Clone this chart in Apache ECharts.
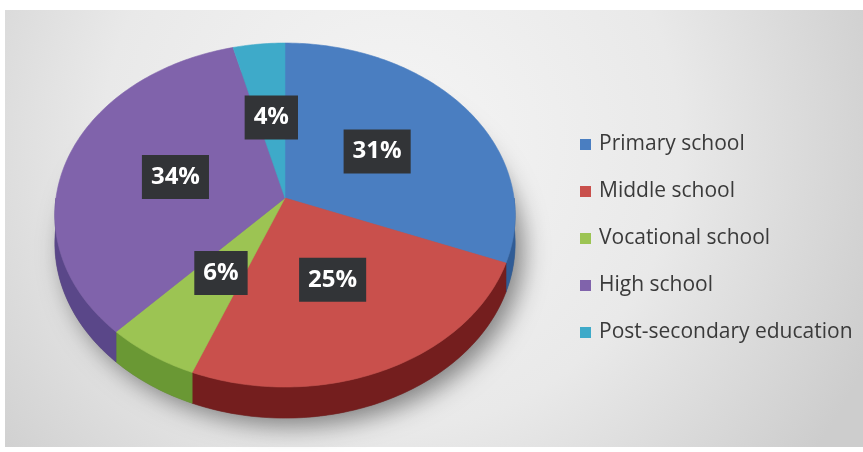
<!DOCTYPE html>
<html>
<head>
<meta charset="utf-8">
<script src="https://cdn.jsdelivr.net/npm/echarts@6/dist/echarts.min.js"></script>
<style>
  html, body { margin: 0; padding: 0; background: #ffffff; }
  #chart { width: 863px; height: 452px; }
</style>
</head>
<body>
<div id="chart"></div>
<script>
// Share of students by education level (percent)
const categories = ['Primary school', 'Middle school', 'Vocational school', 'High school', 'Post-secondary education'];
const shares = [31, 25, 6, 34, 4];
const faceColors = ['#4a7ec1', '#c9504c', '#9cc453', '#8063ab', '#3eaac9'];
const sideColors = ['#305c96', '#741e1e', '#6a9834', '#5a4789', '#2b8aa3'];

const total = shares.reduce((a, b) => a + b, 0);
const starts = [];
let running = 0;
shares.forEach(v => { starts.push(running); running += v; });

// Tilted disc: centre, radii, perspective strength and thickness
const disc = { cx: 285, cy: 198, rx: 229, ry: 170.3, persp: 0.099, depth: 28 };

// Project a point of the disc (angle clockwise from 12 o'clock, radius fraction, drop below the top face)
function project(theta, f, drop) {
  const X = f * Math.sin(theta);
  const Z = f * Math.cos(theta);
  const s = 1 / (1 + disc.persp * Z);
  return [disc.cx + disc.rx * X * s, disc.cy - disc.ry * Z * s + drop * s];
}

function arc(t0, t1, f, drop) {
  const n = Math.max(2, Math.ceil(Math.abs(t1 - t0) / (Math.PI / 180)));
  const pts = [];
  for (let i = 0; i <= n; i++) {
    pts.push(project(t0 + (t1 - t0) * i / n, f, drop));
  }
  return pts;
}

function renderSlice(idx) {
  return function (params, api) {
    const a0 = api.value(0) / total * Math.PI * 2;
    const a1 = api.value(1) / total * Math.PI * 2;
    const children = [];

    if (idx === 0) {
      // soft drop shadow beneath the whole disc
      children.push({
        type: 'polygon',
        shape: { points: arc(0, Math.PI * 2, 1, disc.depth) },
        style: { fill: '#6a6a6a', shadowBlur: 24, shadowColor: 'rgba(0,0,0,0.45)', shadowOffsetX: 8, shadowOffsetY: 8 },
        z2: 0
      });
    }

    // visible rim of the disc (front half)
    const lo = Math.max(a0, Math.PI / 2);
    const hi = Math.min(a1, Math.PI * 1.5);
    if (hi > lo) {
      const pts = arc(lo, hi, 1, 0).concat(arc(hi, lo, 1, disc.depth));
      children.push({
        type: 'polygon',
        shape: { points: pts },
        style: { fill: sideColors[idx], stroke: sideColors[idx], lineWidth: 0.6 },
        z2: 2
      });
    }

    // top face
    const face = [project(0, 0, 0)].concat(arc(a0, a1, 1, 0));
    children.push({
      type: 'polygon',
      shape: { points: face },
      style: { fill: faceColors[idx], stroke: faceColors[idx], lineWidth: 0.6 },
      z2: 5
    });

    // value label
    const mid = (a0 + a1) / 2;
    const p = project(mid, 0.5, 0);
    children.push({
      type: 'text',
      x: p[0],
      y: p[1],
      style: {
        text: api.value(2) + '%',
        fill: '#ffffff',
        font: 'bold 24px "Open Sans", sans-serif',
        align: 'center',
        verticalAlign: 'middle',
        lineHeight: 24,
        backgroundColor: '#323437',
        padding: [10, 9],
        boxShadowBlur: 6,
        boxShadowColor: 'rgba(0,0,0,0.45)',
        boxShadowOffsetX: 2,
        boxShadowOffsetY: 2
      },
      z2: 20
    });

    return { type: 'group', children: children };
  };
}

const series = categories.map((name, i) => ({
  type: 'custom',
  name: name,
  coordinateSystem: 'none',
  itemStyle: { color: faceColors[i] },
  renderItem: renderSlice(i),
  data: [[starts[i], starts[i] + shares[i], shares[i]]],
  silent: true,
  animation: false
}));

const chart = echarts.init(document.getElementById('chart'), null, { renderer: 'canvas' });
chart.setOption({
  backgroundColor: '#ffffff',
  animation: false,
  graphic: [{
    type: 'rect',
    shape: { x: 5, y: 10, width: 858, height: 437 },
    style: {
      fill: new echarts.graphic.RadialGradient(0.45, 0.3, 1.2, [
        { offset: 0, color: '#f5f5f5' },
        { offset: 0.55, color: '#e9e9e9' },
        { offset: 1, color: '#cdcdcd' }
      ])
    },
    z: -10,
    silent: true
  }],
  legend: {
    data: categories,
    orient: 'vertical',
    left: 575,
    top: 129,
    icon: 'rect',
    itemWidth: 11,
    itemHeight: 11,
    itemGap: 26,
    selectedMode: false,
    textStyle: {
      fontFamily: '"Open Sans"',
      fontSize: 21,
      color: '#3a3a3a',
      lineHeight: 20,
      padding: [0, 0, 0, 3]
    }
  },
  series: series
});
</script>
</body>
</html>
